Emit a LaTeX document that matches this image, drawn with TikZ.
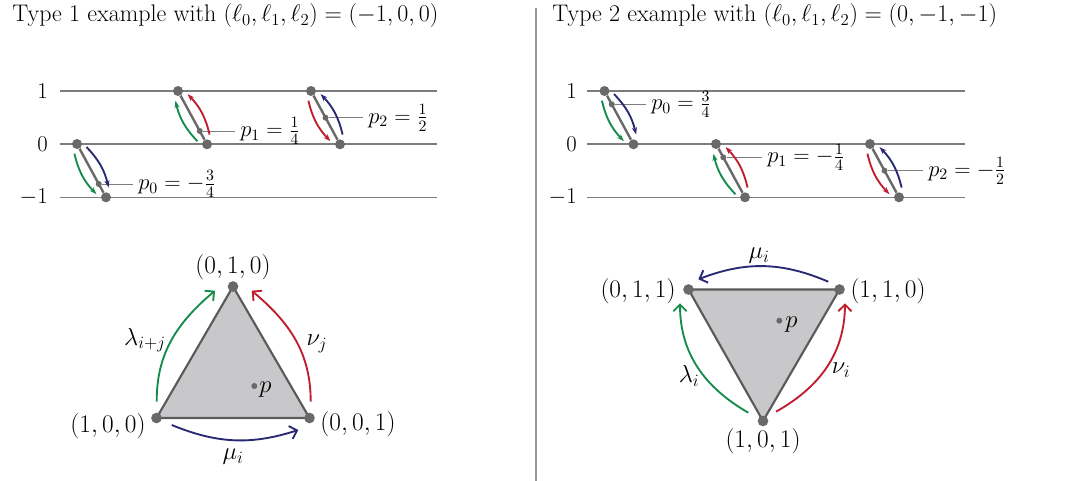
\documentclass[tikz,border=0pt]{standalone}
\usepackage{fix-cm}
\usepackage{fontspec}
\usetikzlibrary{arrows.meta, calc}

\definecolor{lvgray}{RGB}{125,125,125}
\definecolor{dotgray}{RGB}{105,105,105}
\definecolor{trifill}{RGB}{200,200,202}
\definecolor{triedge}{RGB}{90,90,90}
\definecolor{lamgreen}{RGB}{20,140,75}
\definecolor{nured}{RGB}{190,30,45}
\definecolor{mublue}{RGB}{40,40,115}

\begin{document}
\begin{tikzpicture}[x=0.75pt, y=-0.75pt,
  level/.style={draw=lvgray, line width=0.9pt},
  bigdot/.style={circle, fill=dotgray, minimum size=7.5pt, inner sep=0pt},
  pdot/.style={circle, fill=dotgray, minimum size=4.5pt, inner sep=0pt},
  vdot/.style={circle, fill=dotgray, minimum size=8pt, inner sep=0pt},
  segline/.style={draw=dotgray, line width=1.8pt},
  leader/.style={draw=lvgray, line width=0.7pt},
  lbl/.style={font=\fontsize{17}{20}\selectfont, inner sep=0pt},
  glbl/.style={font=\fontsize{18.5}{22}\selectfont, inner sep=0pt},
  vlbl/.style={font=\fontsize{19}{22}\selectfont, inner sep=0pt},
  ttl/.style={font=\fontsize{18}{21}\selectfont, anchor=base west, inner sep=0pt},
  shortarr/.style={line width=1.4pt, -{Stealth[length=5.5pt,width=3.8pt]}},
  longarr/.style={line width=1.4pt, -{Straight Barb[length=5pt,width=10pt]}},
  tri/.style={fill=trifill, draw=triedge, line width=1.6pt, line join=round}
]

\useasboundingbox (0,0) rectangle (1069,481);

% titles and separator
\node[ttl] (tleft) at (12,22) {Type 1 example with $(\ell_0,\ell_1,\ell_2)=(-1,0,0)$};
\node[ttl] (tright) at (552,22) {Type 2 example with $(\ell_0,\ell_1,\ell_2)=(0,-1,-1)$};
\coordinate (septop) at (536,8);
\coordinate (sepbot) at (536,481);
\draw[draw=lvgray!80, line width=1pt] (septop) -- (sepbot);

% levels
\foreach \lv/\y/\nm in {1/91/a, 0/144/b, -1/197.3/c} {
  \node[lbl, anchor=east] (lvl-\nm) at (48,\y) {$\lv$};
  \coordinate (lvs-\nm) at (60,\y);
  \coordinate (lve-\nm) at (437,\y);
  \draw[level] (lvs-\nm) -- (lve-\nm);
  \node[lbl, anchor=east] (rvl-\nm) at (577,\y) {$\lv$};
  \coordinate (rvs-\nm) at (587,\y);
  \coordinate (rve-\nm) at (965,\y);
  \draw[level] (rvs-\nm) -- (rve-\nm);
}

% segments with p_k
\foreach \s/\xt/\yt/\t/\xe/\txt in {
    la/77/144/0.75/138/{$p_0=-\frac34$},
    lb/178/91/0.75/240/{$p_1=\frac14$},
    lc/311/91/0.5/368/{$p_2=\frac12$},
    ra/604.5/91/0.25/651/{$p_0=\frac34$},
    rb/716/144/0.25/767/{$p_1=-\frac14$},
    rc/870/144/0.5/928/{$p_2=-\frac12$}} {
  \node[bigdot] (\s-top) at (\xt,\yt) {};
  \node[bigdot] (\s-bot) at (\xt+29,\yt+53.3) {};
  \draw[segline] (\s-top) -- (\s-bot);
  \pgfmathsetmacro\yp{\yt+\t*53.3}
  \node[pdot] (\s-p) at ($(\s-top)!\t!(\s-bot)$) {};
  \node[lbl, anchor=west] (\s-lab) at (\xe,\yp) {\txt};
  \draw[leader] (\s-p) -- ([xshift=-4pt]\s-lab.west);
  \coordinate (\s-l1) at ($(\s-top)!0.12!(\s-bot)!5.2pt!-90:(\s-bot)$);
  \coordinate (\s-l2) at ($(\s-top)!0.88!(\s-bot)!5.2pt!-90:(\s-bot)$);
  \coordinate (\s-r1) at ($(\s-top)!0.12!(\s-bot)!5.2pt!90:(\s-bot)$);
  \coordinate (\s-r2) at ($(\s-top)!0.88!(\s-bot)!5.2pt!90:(\s-bot)$);
}
\foreach \s in {la,ra} {
  \draw[shortarr, lamgreen] (\s-l1) to[bend right=15] (\s-l2);
  \draw[shortarr, mublue] (\s-r1) to[bend left=15] (\s-r2);
}
\foreach \s in {lb,rb} {
  \draw[shortarr, lamgreen] (\s-l2) to[bend left=15] (\s-l1);
  \draw[shortarr, nured] (\s-r2) to[bend right=15] (\s-r1);
}
\foreach \s in {lc,rc} {
  \draw[shortarr, nured] (\s-l1) to[bend right=15] (\s-l2);
  \draw[shortarr, mublue] (\s-r2) to[bend right=15] (\s-r1);
}

% type 1 triangle
\coordinate (A) at (156.5,418);
\coordinate (B) at (309.5,418);
\coordinate (C) at (233,286.5);
\filldraw[tri] (A) -- (B) -- (C) -- cycle;
\node[vdot] (dA) at (A) {};
\node[vdot] (dB) at (B) {};
\node[vdot] (dC) at (C) {};
\node[vlbl] (labA) at (108,426) {$(1,0,0)$};
\node[vlbl] (labB) at (358,424) {$(0,0,1)$};
\node[vlbl] (labC) at (233,267) {$(0,1,0)$};
\node[pdot] (pL) at (254.3,386) {};
\node[glbl, anchor=base west] (pLlab) at (259,392) {$p$};
\coordinate (gA) at (156.7,401.7);
\coordinate (gC) at (215,290.7);
\coordinate (rB) at (310.7,401.7);
\coordinate (rC) at (251.7,290.7);
\coordinate (bA) at (171.7,425);
\coordinate (bB) at (298.3,430);
\draw[longarr, lamgreen] (gA) to[relative, out=28, in=158] (gC);
\draw[longarr, nured] (rB) to[relative, out=-28, in=-158] (rC);
\draw[longarr, mublue] (bA) to[bend right=20] (bB);
\node[glbl] (lamL) at (145,340) {$\lambda_{i+j}$};
\node[glbl] (nuL) at (317,344) {$\nu_j$};
\node[glbl] (muL) at (233,457) {$\mu_i$};

% type 2 triangle
\coordinate (P) at (688.5,289.5);
\coordinate (Q) at (839.5,289.5);
\coordinate (R) at (763,421);
\filldraw[tri] (P) -- (Q) -- (R) -- cycle;
\node[vdot] (dP) at (P) {};
\node[vdot] (dQ) at (Q) {};
\node[vdot] (dR) at (R) {};
\node[vlbl] (labP) at (638,291) {$(0,1,1)$};
\node[vlbl] (labQ) at (888,291) {$(1,1,0)$};
\node[vlbl] (labR) at (763,441) {$(1,0,1)$};
\node[pdot] (pR) at (779.3,320.7) {};
\node[glbl, anchor=base west] (pRlab) at (785,327) {$p$};
\coordinate (bQ) at (828.3,281.7);
\coordinate (bP) at (698.3,279.3);
\coordinate (gR) at (748.3,412.7);
\coordinate (gP) at (680,303.3);
\coordinate (rR) at (776,411.7);
\coordinate (rQ) at (845,303.3);
\draw[longarr, mublue] (bQ) to[bend right=22] (bP);
\draw[longarr, lamgreen] (gR) to[relative, out=28, in=148] (gP);
\draw[longarr, nured] (rR) to[relative, out=-28, in=-148] (rQ);
\node[glbl] (muR) at (759,256) {$\mu_i$};
\node[glbl] (lamR) at (689,376) {$\lambda_i$};
\node[glbl] (nuR) at (841,370) {$\nu_i$};

\end{tikzpicture}
\end{document}
